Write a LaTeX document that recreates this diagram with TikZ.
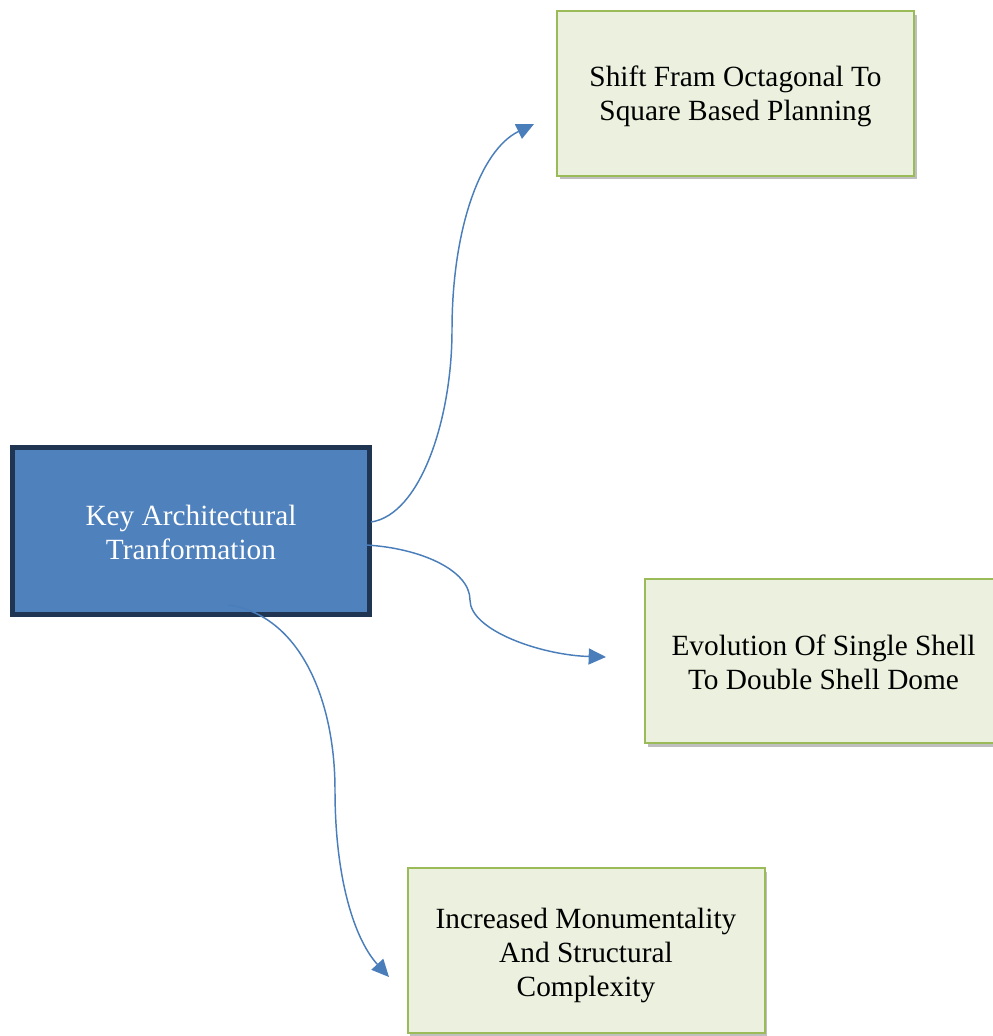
\documentclass[tikz,border=0pt]{standalone}
\usepackage{fontspec}
\setmainfont{Liberation Serif}
\usetikzlibrary{arrows.meta,shadows}
\definecolor{keyfill}{HTML}{4F81BD}
\definecolor{keyborder}{HTML}{1F3552}
\definecolor{leaffill}{HTML}{EBF1DE}
\definecolor{leafborder}{HTML}{9BBB59}
\definecolor{linkcol}{HTML}{4A7EBB}
\newcommand\lowtext[2]{\raisebox{-#1}[\height][\depth]{\begin{tabular}{@{}c@{}}#2\end{tabular}}}
\tikzset{
  keybox/.style={draw=keyborder, line width=3.6pt, fill=keyfill, text=white,
    minimum width=268pt, minimum height=125.5pt, align=center, inner sep=0pt,
    font=\fontsize{22pt}{25.5pt}\selectfont},
  leafbox/.style={draw=leafborder, line width=1.5pt, fill=leaffill, text=black,
    minimum width=267.75pt, minimum height=123.5pt, align=center, inner sep=0pt,
    font=\fontsize{22pt}{25.5pt}\selectfont,
    drop shadow={shadow xshift=2pt, shadow yshift=-2.5pt, fill=black, opacity=0.25}},
  link/.style={draw=linkcol, line width=1.1pt,
    -{Triangle[length=13pt,width=12pt]}}
}
\begin{document}
\begin{tikzpicture}[x=0.75pt,y=-0.75pt]
\useasboundingbox (0,0) rectangle (993,1036);
\node[leafbox] (plan) at (735.5,93.5) {\lowtext{2.4pt}{Shift Fram Octagonal To\\Square Based Planning}};
\node[leafbox] (dome) at (823.5,661) {\lowtext{3.2pt}{Evolution Of Single Shell\\To Double Shell Dome}};
\node[leafbox] (mon) at (586,950.5) {\lowtext{3.8pt}{Increased Monumentality\\And Structural\\Complexity}};
\node[keybox] (key) at (191,531) {\lowtext{3.2pt}{Key Architectural\\Tranformation}};
\coordinate (s1) at (371,522);
\coordinate (s2) at (366,545);
\coordinate (s3) at (228,605);
\coordinate (t1) at (534,124);
\coordinate (t2) at (606,657);
\coordinate (t3) at (389,977);
\draw[link] (s1) .. controls (420,515) and (452,420) .. (452,330)
  .. controls (452,230) and (480,150) .. (t1);
\draw[link] (s2) .. controls (420,548) and (470,570) .. (470,600)
  .. controls (470,630) and (540,655) .. (t2);
\draw[link] (s3) .. controls (300,615) and (335,700) .. (335,790)
  .. controls (335,880) and (355,940) .. (t3);
\end{tikzpicture}
\end{document}
